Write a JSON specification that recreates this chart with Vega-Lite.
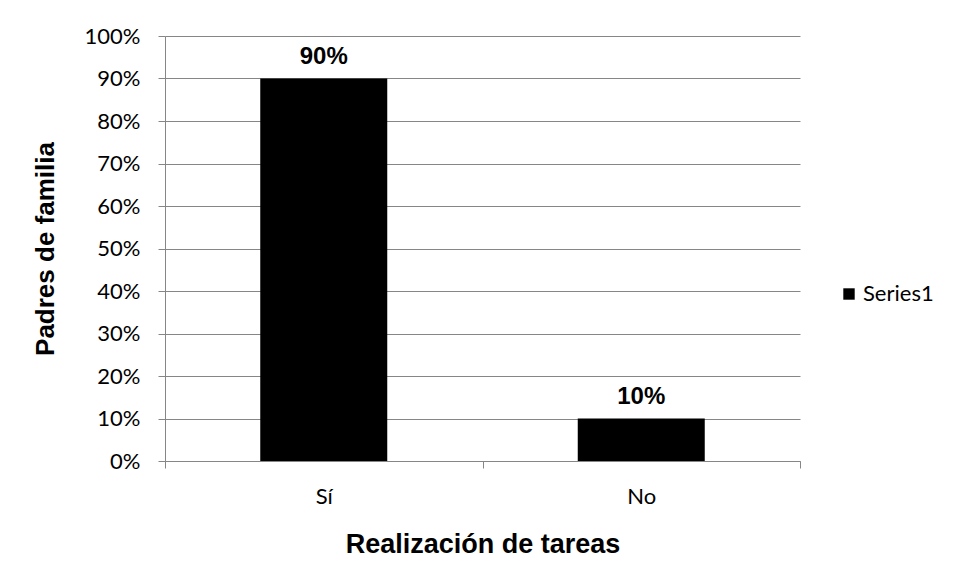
{
  "$schema": "https://vega.github.io/schema/vega-lite/v6.json",
  "width": 635,
  "height": 425,
  "autosize": {"type": "none"},
  "padding": {"left": 165, "top": 36, "right": 159, "bottom": 116},
  "background": "white",
  "data": {"values": [
    {"respuesta": "Sí", "valor": 0.9, "serie": "Series1"},
    {"respuesta": "No", "valor": 0.1, "serie": "Series1"}
  ]},
  "encoding": {
    "x": {
      "field": "respuesta", "type": "nominal", "sort": ["Sí", "No"],
      "scale": {"paddingInner": 0, "paddingOuter": 0},
      "axis": {
        "title": "Realización de tareas",
        "titleFont": "Liberation Sans", "titleFontSize": 27, "titleFontWeight": "bold", "titleColor": "black",
        "titlePadding": 24,
        "labelFont": "Lato", "labelFontSize": 22, "labelColor": "black", "labelPadding": 18, "labelAngle": 0,
        "tickBand": "extent", "tickSize": 7, "tickColor": "#868686", "domainColor": "#868686", "grid": false
      }
    },
    "y": {
      "field": "valor", "type": "quantitative",
      "scale": {"domain": [0, 1]},
      "axis": {
        "title": "Padres de familia",
        "titleFont": "Liberation Sans", "titleFontSize": 26, "titleFontWeight": "bold", "titleColor": "black",
        "titlePadding": 26,
        "format": ".0%", "values": [0, 0.1, 0.2, 0.3, 0.4, 0.5, 0.6, 0.7, 0.8, 0.9, 1],
        "labelFont": "Lato", "labelFontSize": 22, "labelColor": "black", "labelPadding": 18,
        "tickSize": 7, "tickColor": "#868686", "domainColor": "#868686",
        "grid": true, "gridColor": "#868686", "gridWidth": 1
      }
    }
  },
  "layer": [
    {
      "mark": {"type": "bar", "color": "black", "width": {"band": 0.4}},
      "encoding": {
        "fill": {
          "field": "serie", "type": "nominal",
          "scale": {"range": ["black"]},
          "legend": {
            "title": null, "orient": "none", "legendX": 673, "legendY": 247,
            "symbolType": "square", "symbolSize": 130, "symbolStrokeWidth": 0,
            "labelFont": "Lato", "labelFontSize": 22, "labelColor": "black", "labelOffset": 3
          }
        }
      }
    },
    {
      "mark": {"type": "text", "dy": -22, "font": "Liberation Sans", "fontSize": 24, "fontWeight": "bold", "color": "black"},
      "encoding": {
        "text": {"field": "valor", "type": "quantitative", "format": ".0%"}
      }
    }
  ],
  "config": {"view": {"stroke": null}}
}
